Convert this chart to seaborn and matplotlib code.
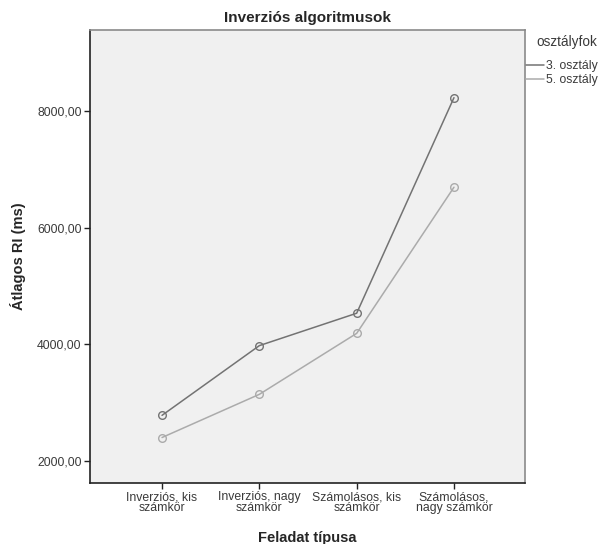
import matplotlib
matplotlib.use("Agg")
import matplotlib.pyplot as plt
from matplotlib.lines import Line2D
import seaborn as sns
import pandas as pd

categories = ["Inverziós, kis\nszámkör", "Inverziós, nagy\nszámkör",
              "Számolásos, kis\nszámkör", "Számolásos,\nnagy számkör"]
groups = ["3. osztály", "5. osztály"]
values_3 = [2785, 3980, 4535, 8230]
values_5 = [2405, 3145, 4190, 6695]
yticks = [2000, 4000, 6000, 8000]
ytick_labels = ["2000,00", "4000,00", "6000,00", "8000,00"]

df = pd.DataFrame({
    "Feladat típusa": categories * 2,
    "Átlag": values_3 + values_5,
    "osztályfok": [groups[0]] * 4 + [groups[1]] * 4,
})

sns.set_style("white")
plt.rcParams['font.family'] = ['Liberation Sans', 'DejaVu Sans']

colors = {"3. osztály": "#737373", "5. osztály": "#ababab"}

fig = plt.figure(figsize=(6.05, 5.44), dpi=100)
ax = fig.add_axes([0.1488, 0.1121, 0.8678 - 0.1488, 0.9449 - 0.1121])
ax.set_facecolor("#f0f0f0")

sns.lineplot(data=df, x="Feladat típusa", y="Átlag", hue="osztályfok",
             palette=colors, marker="o", markersize=5.5, markerfacecolor="none",
             markeredgewidth=1.0, linewidth=1.1, legend=False, ax=ax, sort=False)
for line in ax.lines:
    line.set_markeredgecolor(line.get_color())

ax.set_xlim(-0.74, 3.73)
ax.set_ylim(1625, 9390)
ax.set_yticks(yticks)
ax.set_yticklabels(ytick_labels)
ax.tick_params(axis="both", direction="out", length=4, width=1, color="#222222",
               labelsize=8.8, labelcolor="#3a3a3a", left=True, bottom=True, pad=2)
for lab in ax.get_xticklabels():
    lab.set_linespacing(0.85)

for s in ["left", "bottom"]:
    ax.spines[s].set_color("#222222")
    ax.spines[s].set_linewidth(1.2)
for s in ["top", "right"]:
    ax.spines[s].set_color("#8a8a8a")
    ax.spines[s].set_linewidth(1.2)

ax.set_xlabel("Feladat típusa", fontsize=10.5, fontweight="bold", labelpad=12)
ax.set_ylabel("Átlagos RI (ms)", fontsize=10.5, fontweight="bold", labelpad=8)
ax.set_title("Inverziós algoritmusok", fontsize=11, fontweight="bold", pad=6)

handles = [Line2D([0], [0], color=colors[g], lw=1.1) for g in groups]
leg = fig.legend(handles, groups, title="osztályfok", loc="upper left",
                 bbox_to_anchor=(0.869, 0.935), frameon=False, fontsize=8.8,
                 title_fontsize=9.8, handlelength=1.5, handletextpad=0.15,
                 labelspacing=0.15, borderaxespad=0, borderpad=0,
                 alignment="right")
leg._legend_box.sep = 8
leg.get_title().set_color("#3a3a3a")
for t in leg.get_texts():
    t.set_color("#3a3a3a")

fig.savefig("out.png", dpi=100, facecolor="white")
